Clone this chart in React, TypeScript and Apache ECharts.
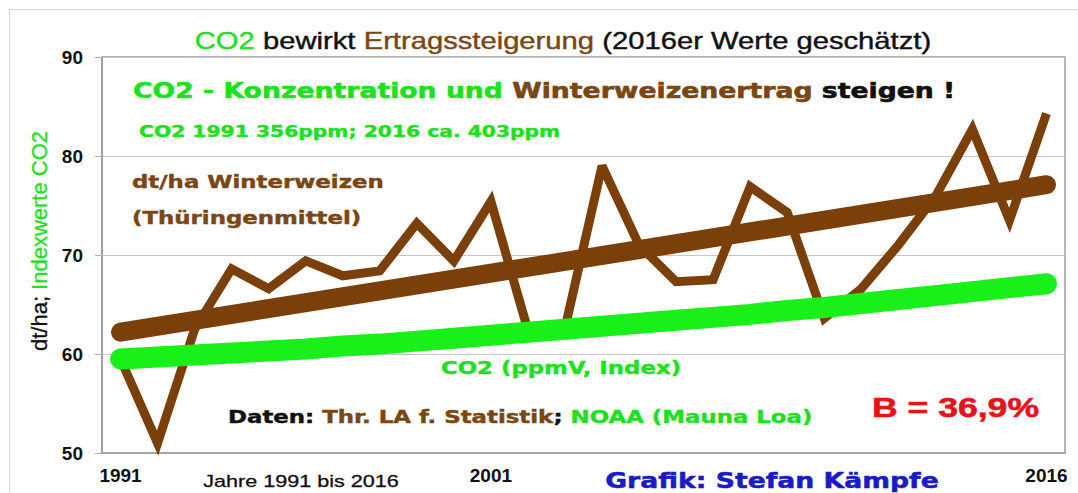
import React, { useEffect, useRef } from "react";
import * as echarts from "echarts";

const years = [
  "1991", "1992", "1993", "1994", "1995", "1996", "1997", "1998", "1999", "2000",
  "2001", "2002", "2003", "2004", "2005", "2006", "2007", "2008", "2009", "2010",
  "2011", "2012", "2013", "2014", "2015", "2016",
];

// Winterweizen Thüringenmittel, dt/ha
const wheatYield = [
  59.5, 51.0, 62.5, 68.6, 66.6, 69.4, 67.9, 68.4, 73.2, 69.4,
  75.4, 62.4, 62.6, 79.0, 71.0, 67.3, 67.5, 76.9, 74.3, 63.6,
  66.6, 71.0, 75.9, 82.7, 73.5, 84.3,
];

// CO2 (ppmV, Index)
const co2Index = [
  59.5, 59.7, 59.9, 60.1, 60.3, 60.5, 60.8, 61.0, 61.3, 61.6,
  61.9, 62.2, 62.5, 62.8, 63.1, 63.4, 63.7, 64.0, 64.4, 64.7,
  65.1, 65.5, 65.9, 66.3, 66.7, 67.1,
];

// linear trend of yield (start / end)
const trendStart = 62.2;
const trendEnd = 77.1;

const shownYearLabels = ["1991", "2001", "2016"];

const yMin = 50;
const yMax = 90;
const yStep = 10;

const BROWN = "#7b3f0a";
const BROWN_TXT = "#7a4714";
const GREEN = "#19ef19";
const GREEN_TXT = "#1fe01f";
const BLACK = "#111111";
const SX = 1.27;

const V = "DejaVu Sans";
const A = "Liberation Sans";

function rich(size: number, family: string, weight: string, colors: Record<string, string>, strokeW: number) {
  const r: Record<string, any> = {};
  Object.keys(colors).forEach((k) => {
    r[k] = {
      fill: colors[k],
      fontSize: size,
      fontFamily: family,
      fontWeight: weight,
      stroke: strokeW > 0 ? colors[k] : "none",
      lineWidth: strokeW,
    };
  });
  return r;
}

function txt(x: number, y: number, text: string, size: number, family: string, weight: string,
  colors: Record<string, string>, align: string = "left", strokeW: number = 0.45, scaleX: number = SX) {
  return {
    type: "text",
    x,
    y,
    scaleX,
    silent: true,
    z: 100,
    style: {
      text,
      fontSize: size,
      fontFamily: family,
      fontWeight: weight,
      fill: BLACK,
      align,
      verticalAlign: "middle",
      rich: rich(size, family, weight, colors, strokeW),
    },
  };
}

export default function App() {
  const ref = useRef<HTMLDivElement>(null);

  useEffect(() => {
    if (!ref.current) return;
    const chart = echarts.init(ref.current, undefined, { renderer: "svg" });
    const option: any = {
      animation: false,
      backgroundColor: "#ffffff",
      grid: {
        left: 102,
        right: 13,
        top: 57,
        bottom: 40,
        show: true,
        borderColor: "#9c9c9c",
        borderWidth: 1.5,
        backgroundColor: "#ffffff",
      },
      xAxis: {
        type: "category",
        data: years,
        boundaryGap: true,
        axisLine: { show: true, lineStyle: { color: "#9c9c9c", width: 1.5 } },
        axisTick: { show: false },
        axisLabel: {
          interval: (_i: number, v: string) => shownYearLabels.indexOf(v) >= 0,
          color: BLACK,
          fontFamily: A,
          fontWeight: "bold",
          fontSize: 19,
          margin: 13,
        },
        splitLine: { show: false },
      },
      yAxis: {
        type: "value",
        min: yMin,
        max: yMax,
        interval: yStep,
        axisLine: { show: true, lineStyle: { color: "#9c9c9c", width: 1.5 } },
        axisTick: { show: true, length: 7, lineStyle: { color: "#b0b0b0" } },
        axisLabel: {
          color: BLACK,
          fontFamily: A,
          fontWeight: "bold",
          fontSize: 19,
          margin: 19,
        },
        splitLine: { show: true, lineStyle: { color: "#c6c6c6", width: 1 } },
      },
      series: [
        {
          name: "Trend",
          type: "line",
          data: [
            [years[0], trendStart],
            [years[years.length - 1], trendEnd],
          ],
          symbol: "none",
          silent: true,
          z: 2,
          lineStyle: { color: BROWN, width: 19, cap: "round" },
        },
        {
          name: "Winterweizen",
          type: "line",
          data: wheatYield,
          symbol: "none",
          silent: true,
          z: 3,
          lineStyle: { color: BROWN, width: 9, join: "miter", miterLimit: 3, cap: "butt" },
        },
        {
          name: "CO2",
          type: "line",
          data: co2Index,
          symbol: "none",
          silent: true,
          z: 4,
          lineStyle: { color: GREEN, width: 21, cap: "round", join: "round" },
        },
      ],
      graphic: [
        {
          type: "rect",
          silent: true,
          shape: { x: 9.5, y: 9.5, width: 1200, height: 1000 },
          style: { fill: "none", stroke: "#d2d2d2", lineWidth: 1 },
          z: 0,
        },
        txt(563, 41,
          "{g|CO2} {k|bewirkt} {b|Ertragssteigerung} {k|(2016er Werte geschätzt)}",
          23, A, "normal", { g: GREEN_TXT, k: BLACK, b: BROWN_TXT }, "center", 0.4),
        txt(133, 91,
          "{g|CO2 - Konzentration und }{b|Winterweizenertrag}{k| steigen !}",
          21, V, "bold", { g: GREEN_TXT, k: BLACK, b: BROWN_TXT }, "left", 0.6),
        txt(139, 131, "{g|CO2 1991 356ppm; 2016 ca. 403ppm}",
          16, V, "bold", { g: GREEN_TXT }),
        txt(132, 182, "{b|dt/ha Winterweizen}", 18, V, "bold", { b: BROWN_TXT }),
        txt(132, 218, "{b|(Thüringenmittel)}", 18, V, "bold", { b: BROWN_TXT }),
        txt(561, 368, "{g|CO2 (ppmV, Index)}", 18, V, "bold", { g: GREEN_TXT }, "center"),
        txt(228, 417,
          "{k|Daten: }{b|Thr. LA f. Statistik}{k|; }{g|NOAA (Mauna Loa)}",
          18, V, "bold", { g: GREEN_TXT, k: BLACK, b: BROWN_TXT }),
        txt(872, 407, "{r|B = 36,9%}", 28, A, "bold", { r: "#e3141c" }, "left", 0.6),
        txt(772, 481, "{u|Grafik: Stefan Kämpfe}", 21, V, "bold", { u: "#1b1bc4" }, "center", 0.5),
        txt(301, 481, "{k|Jahre 1991 bis 2016}", 17, A, "normal", { k: BLACK }, "center", 0.3),
        {
          type: "text",
          x: 39,
          y: 241,
          rotation: Math.PI / 2,
          silent: true,
          z: 100,
          style: {
            text: "{k|dt/ha;} {g|Indexwerte CO2}",
            fontSize: 22,
            fontFamily: A,
            align: "center",
            verticalAlign: "middle",
            fill: BLACK,
            rich: rich(22, A, "normal", { k: BLACK, g: GREEN_TXT }, 0.3),
          },
        },
      ],
    };
    chart.setOption(option);
    return () => chart.dispose();
  }, []);

  return (
    <div
      ref={ref}
      style={{ position: "fixed", left: 0, top: 0, width: 1078, height: 493, background: "#fff" }}
    />
  );
}
